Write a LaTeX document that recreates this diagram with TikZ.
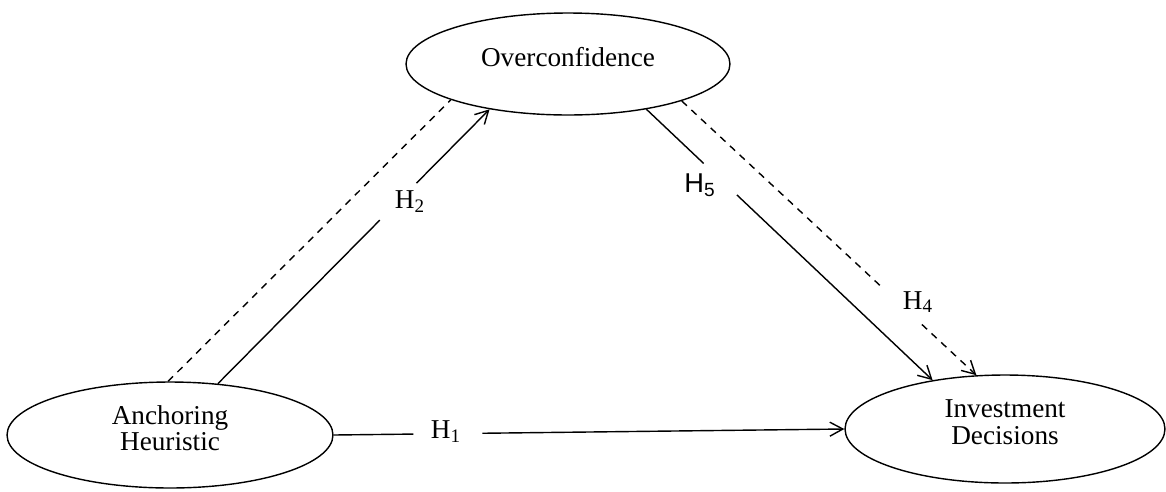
\documentclass[tikz,border=0pt]{standalone}
\usepackage{fontspec}
\setmainfont{Liberation Serif}
\newfontfamily\hsans{Liberation Sans}
\usetikzlibrary{shapes.geometric,arrows.meta,calc}
\newcommand{\lowstrut}{\rule[-8pt]{0pt}{8pt}}

\begin{document}
\begin{tikzpicture}[x=0.02cm,y=-0.02cm,
  every node/.style={font=\fontsize{15.5}{15}\selectfont},
  latent/.style={ellipse,draw,line width=0.8pt,inner sep=0pt,align=center},
  plain/.style={line width=0.8pt},
  link/.style={line width=0.8pt,-{Straight Barb[length=2.6mm,width=2.8mm]}},
  dashes/.style={dash pattern=on 4pt off 3.5pt}]
\useasboundingbox (0,0) rectangle (1166,491);
% constructs
\node[latent,minimum width=6.48cm,minimum height=2.04cm] (over) at (568,64) {Overconfidence\lowstrut};
\node[latent,minimum width=6.52cm,minimum height=2.12cm] (anch) at (170,435) {Anchoring\\Heuristic\lowstrut};
\node[latent,minimum width=6.4cm,minimum height=2.16cm] (inv) at (1005,429) {Investment\\Decisions\lowstrut};
% hypothesis labels
\node (h1) at (446,432) {H\textsubscript{1}};
\node (h2) at (410,202) {H\textsubscript{2}};
\node (h5) at (700,185) {\hsans H\textsubscript{5}};
\node (h4) at (918,302) {H\textsubscript{4}};
% H1
\draw[plain] (anch.east) -- ($(anch.east)!0.156!(inv.west)$);
\draw[link] ($(anch.east)!0.291!(inv.west)$) -- (inv.west);
% H2
\draw[plain,dashes] (anch.92) -- (over.197);
\draw[plain] (anch.47) -- ($(anch.47)!0.596!(over.210)$);
\draw[link] ($(anch.47)!0.731!(over.210)$) -- (over.210);
% H5
\draw[plain] (over.330) -- ($(over.330)!0.2!(inv.146)$);
\draw[link] ($(over.330)!0.316!(inv.146)$) -- (inv.146);
% H4
\draw[plain,dashes] (over.342) -- ($(over.342)!0.676!(inv.118)$);
\draw[link,dashes] ($(over.342)!0.815!(inv.118)$) -- (inv.118);
\end{tikzpicture}
\end{document}
